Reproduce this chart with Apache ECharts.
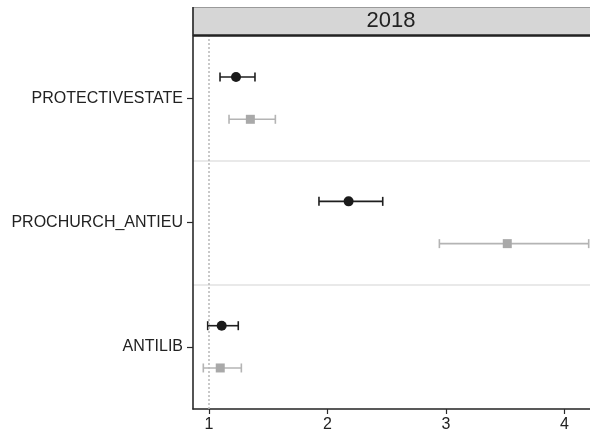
<!DOCTYPE html>
<html>
<head>
<meta charset="utf-8">
<script src="https://cdn.jsdelivr.net/npm/echarts@6/dist/echarts.min.js"></script>
<style>
  html, body { margin: 0; padding: 0; background: #fff; }
  #chart { width: 590px; height: 434px; }
</style>
</head>
<body>
<div id="chart"></div>
<script>
// Categories listed bottom to top
const categories = ['ANTILIB', 'PROCHURCH_ANTIEU', 'PROTECTIVESTATE'];
const panelTitle = '2018';
const xTicks = [1, 2, 3, 4];

// Estimates with confidence bounds, first group (black circles)
const groupA_est  = [1.107, 2.178, 1.228];
const groupA_low  = [0.989, 1.928, 1.093];
const groupA_high = [1.247, 2.466, 1.388];

// Second group (grey squares)
const groupB_est  = [1.095, 3.517, 1.349];
const groupB_low  = [0.952, 2.944, 1.169];
const groupB_high = [1.273, 4.204, 1.560];

const offsetA = 0.17;   // vertical offset within a category band
const offsetB = -0.17;

const chart = echarts.init(document.getElementById('chart'));

function pos(i, off) { return i + 0.5 + off; }

function barData(low, high, off) {
  return low.map((l, i) => [l, high[i], pos(i, off)]);
}
function pointData(est, off) {
  return est.map((v, i) => [v, pos(i, off)]);
}

function errorBar(color) {
  return function (params, api) {
    const p1 = api.coord([api.value(0), api.value(2)]);
    const p2 = api.coord([api.value(1), api.value(2)]);
    const h = 4.5;
    const style = { stroke: color, lineWidth: 1.6 };
    return {
      type: 'group',
      children: [
        { type: 'line', shape: { x1: p1[0], y1: p1[1], x2: p2[0], y2: p2[1] }, style },
        { type: 'line', shape: { x1: p1[0], y1: p1[1] - h, x2: p1[0], y2: p1[1] + h }, style },
        { type: 'line', shape: { x1: p2[0], y1: p2[1] - h, x2: p2[0], y2: p2[1] + h }, style }
      ]
    };
  };
}

const xMin = 0.865, xMax = 4.215;
const FONT = 'Liberation Sans, Arial, sans-serif';

chart.setOption({
  animation: false,
  backgroundColor: '#ffffff',
  textStyle: { fontFamily: FONT },
  grid: { left: 193, right: 0, top: 36, bottom: 25, containLabel: false },
  xAxis: {
    type: 'value',
    min: xMin,
    max: xMax,
    interval: 1,
    axisLine: { show: true, onZero: false, lineStyle: { color: '#2a2a2a', width: 1.6 } },
    axisTick: { show: true, length: 5, lineStyle: { color: '#2a2a2a', width: 1.2 },
      customValues: xTicks },
    axisLabel: { color: '#222', fontSize: 16, margin: 8, fontFamily: FONT,
      customValues: xTicks,
      formatter: v => String(Math.round(v)) },
    splitLine: { show: false }
  },
  yAxis: [
    {
      type: 'category',
      data: categories,
      boundaryGap: true,
      axisLine: { show: true, lineStyle: { color: '#2a2a2a', width: 1.6 } },
      axisTick: { show: true, alignWithLabel: true, length: 6, lineStyle: { color: '#2a2a2a', width: 1.2 } },
      axisLabel: { color: '#222', fontSize: 16, margin: 10, fontFamily: FONT },
      splitLine: { show: true, lineStyle: { color: '#e2e2e2', width: 1.5 } }
    },
    {
      type: 'value',
      min: 0,
      max: categories.length,
      show: false
    }
  ],
  graphic: [
    {
      type: 'rect',
      shape: { x: 193, y: 7.5, width: 400, height: 28 },
      style: { fill: '#d6d6d6', stroke: '#9a9a9a', lineWidth: 1 },
      z: 10
    },
    {
      type: 'line',
      shape: { x1: 193, y1: 35.5, x2: 590, y2: 35.5 },
      style: { stroke: '#222', lineWidth: 2.5 },
      z: 11
    },
    {
      type: 'line',
      shape: { x1: 193, y1: 7, x2: 193, y2: 36 },
      style: { stroke: '#2a2a2a', lineWidth: 1.6 },
      z: 11
    },
    {
      type: 'text',
      x: 391, y: 21,
      style: { text: panelTitle, fill: '#222', fontSize: 22, align: 'center', verticalAlign: 'middle',
        fontFamily: FONT },
      z: 12
    }
  ],
  series: [
    {
      type: 'line',
      yAxisIndex: 1,
      data: [],
      silent: true,
      markLine: {
        symbol: 'none',
        silent: true,
        label: { show: false },
        lineStyle: { color: '#b8b8b8', type: [2, 2], width: 1.5 },
        data: [{ xAxis: 1 }]
      }
    },
    {
      type: 'custom',
      yAxisIndex: 1,
      renderItem: errorBar('#1e1e1e'),
      data: barData(groupA_low, groupA_high, offsetA),
      z: 3
    },
    {
      type: 'custom',
      yAxisIndex: 1,
      renderItem: errorBar('#b4b4b4'),
      data: barData(groupB_low, groupB_high, offsetB),
      z: 3
    },
    {
      type: 'scatter',
      yAxisIndex: 1,
      symbol: 'circle',
      symbolSize: 10,
      itemStyle: { color: '#1a1a1a', opacity: 1 },
      data: pointData(groupA_est, offsetA),
      z: 5
    },
    {
      type: 'scatter',
      yAxisIndex: 1,
      symbol: 'rect',
      symbolSize: 9,
      itemStyle: { color: '#a9a9a9', opacity: 1 },
      data: pointData(groupB_est, offsetB),
      z: 5
    }
  ]
});
</script>
</body>
</html>
